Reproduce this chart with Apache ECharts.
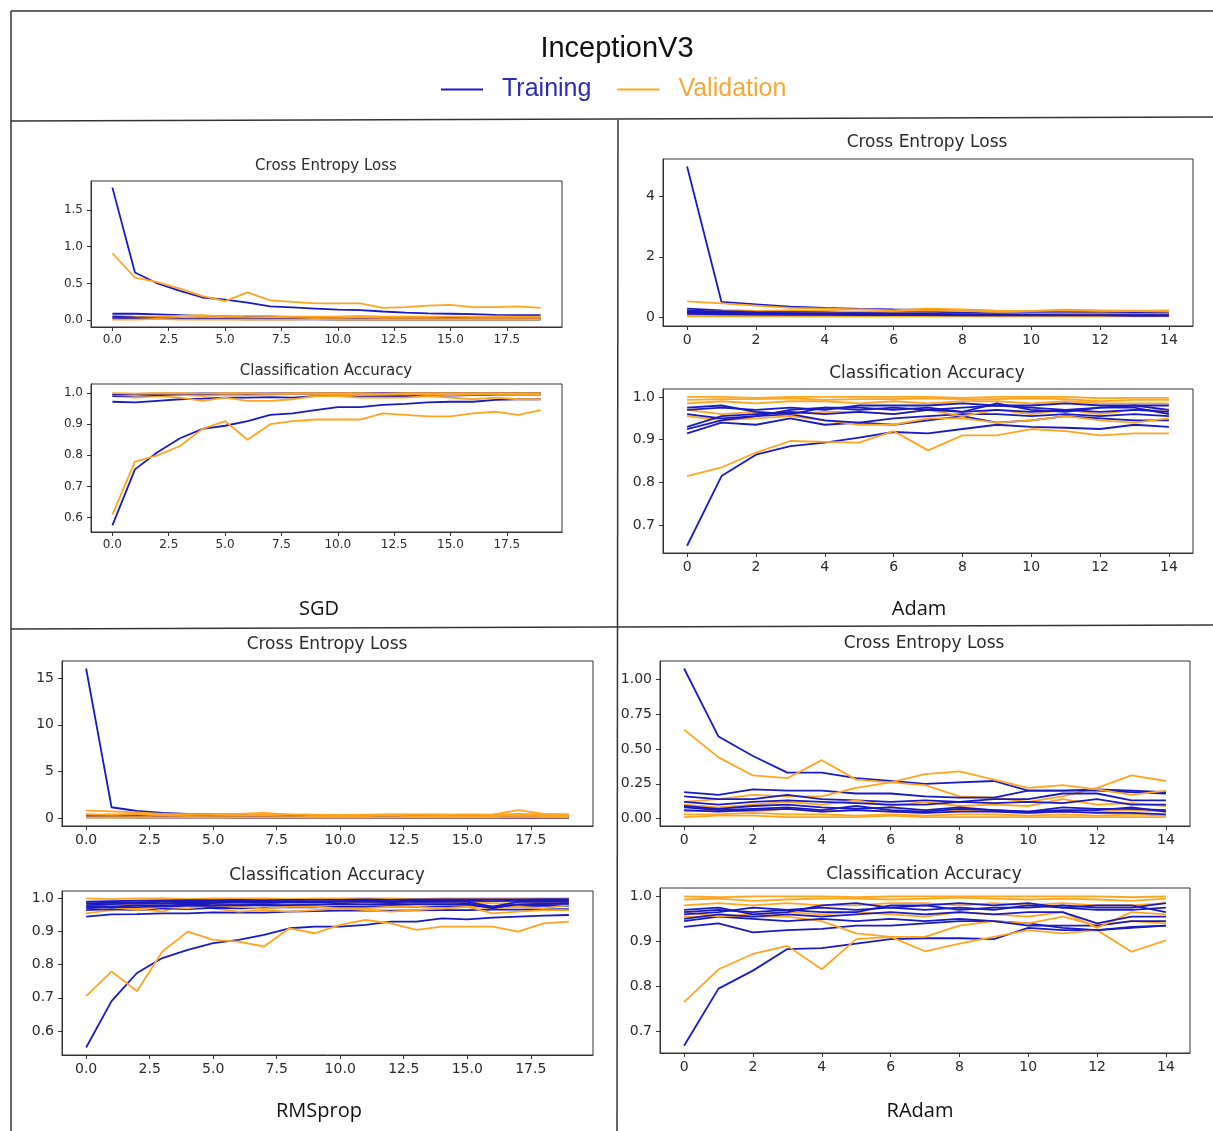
<!DOCTYPE html>
<html>
<head>
<meta charset="utf-8">
<script src="https://cdn.jsdelivr.net/npm/echarts@6/dist/echarts.min.js"></script>
<style>
html, body { margin: 0; padding: 0; background: #fff; }
#main { width: 1213px; height: 1131px; }
</style>
</head>
<body>
<div id="main"></div>
<script>
// tick labels
var ticks20 = [0, 2.5, 5, 7.5, 10, 12.5, 15, 17.5];
var ticks15 = [0, 2, 4, 6, 8, 10, 12, 14];
var sgdLossTicks = [0, 0.5, 1.0, 1.5];
var accTicks6 = [0.6, 0.7, 0.8, 0.9, 1.0];
var accTicks7 = [0.7, 0.8, 0.9, 1.0];
var adamLossTicks = [0, 2, 4];
var rmsLossTicks = [0, 5, 10, 15];
var radamLossTicks = [0, 0.25, 0.5, 0.75, 1.0];

// SGD (20 epochs), one row per fold
var sgdLossTrain = [
    [1.80,0.65,0.50,0.40,0.31,0.28,0.24,0.19,0.175,0.16,0.145,0.14,0.12,0.105,0.095,0.09,0.085,0.075,0.07,0.07],
    [0.09,0.09,0.08,0.07,0.06,0.055,0.05,0.05,0.045,0.045,0.04,0.04,0.04,0.035,0.035,0.035,0.035,0.035,0.035,0.035],
    [0.05,0.04,0.035,0.03,0.03,0.03,0.03,0.025,0.025,0.025,0.02,0.02,0.02,0.02,0.02,0.02,0.02,0.02,0.02,0.02],
    [0.03,0.03,0.025,0.02,0.02,0.02,0.015,0.015,0.015,0.015,0.01,0.01,0.01,0.01,0.01,0.01,0.01,0.01,0.01,0.01]
];
var sgdLossVal = [
    [0.91,0.58,0.52,0.43,0.33,0.26,0.38,0.27,0.25,0.23,0.23,0.23,0.17,0.18,0.20,0.21,0.18,0.18,0.19,0.17],
    [0.06,0.05,0.05,0.06,0.07,0.05,0.06,0.06,0.05,0.05,0.05,0.06,0.05,0.05,0.05,0.05,0.05,0.05,0.05,0.05],
    [0.02,0.03,0.04,0.03,0.05,0.03,0.03,0.04,0.03,0.03,0.03,0.04,0.03,0.03,0.03,0.02,0.03,0.03,0.03,0.03],
    [0.01,0.01,0.02,0.01,0.01,0.01,0.01,0.01,0.01,0.02,0.01,0.01,0.01,0.01,0.01,0.01,0.01,0.01,0.01,0.01]
];
var sgdAccTrain = [
    [0.575,0.755,0.81,0.855,0.885,0.895,0.91,0.93,0.935,0.945,0.955,0.955,0.962,0.965,0.97,0.972,0.972,0.978,0.98,0.98],
    [0.972,0.970,0.975,0.980,0.982,0.985,0.985,0.987,0.985,0.99,0.99,0.99,0.99,0.99,0.992,0.992,0.993,0.995,0.995,0.995],
    [0.99,0.992,0.993,0.995,0.995,0.996,0.996,0.997,0.997,0.997,0.998,0.998,0.998,0.998,0.998,0.999,0.999,0.999,0.999,0.999],
    [0.996,0.997,0.998,0.998,0.999,0.999,0.999,0.999,1.0,1.0,1.0,1.0,1.0,1.0,1.0,1.0,1.0,1.0,1.0,1.0]
];
var sgdAccVal = [
    [0.61,0.78,0.80,0.83,0.885,0.91,0.85,0.90,0.91,0.915,0.915,0.915,0.935,0.93,0.925,0.925,0.935,0.94,0.93,0.945],
    [0.99,0.985,0.99,0.985,0.975,0.985,0.975,0.975,0.98,0.99,0.99,0.985,0.985,0.985,0.99,0.985,0.98,0.985,0.98,0.98],
    [0.995,0.993,0.997,0.995,0.99,0.995,0.993,0.995,0.997,0.997,0.995,0.993,0.995,0.997,0.995,0.993,0.995,0.997,0.995,0.995],
    [1.0,0.998,1.0,1.0,0.998,1.0,1.0,0.998,1.0,1.0,1.0,1.0,0.998,1.0,1.0,1.0,1.0,1.0,1.0,1.0]
];

// Adam (15 epochs)
var adamLossTrain = [
    [5.0,0.5,0.42,0.34,0.3,0.27,0.25,0.24,0.22,0.2,0.18,0.17,0.16,0.15,0.15],
    [0.28,0.22,0.2,0.18,0.17,0.16,0.15,0.18,0.14,0.12,0.12,0.11,0.12,0.11,0.1],
    [0.22,0.18,0.16,0.15,0.14,0.13,0.13,0.12,0.12,0.1,0.1,0.1,0.11,0.09,0.09],
    [0.18,0.14,0.13,0.12,0.12,0.11,0.1,0.1,0.09,0.09,0.08,0.08,0.08,0.08,0.08],
    [0.14,0.12,0.1,0.1,0.09,0.09,0.08,0.08,0.07,0.07,0.07,0.06,0.06,0.06,0.06],
    [0.1,0.09,0.08,0.07,0.07,0.06,0.06,0.06,0.05,0.05,0.05,0.05,0.05,0.04,0.04]
];
var adamLossVal = [
    [0.52,0.45,0.38,0.3,0.28,0.25,0.22,0.28,0.25,0.2,0.2,0.24,0.22,0.2,0.22],
    [0.2,0.18,0.2,0.22,0.2,0.18,0.2,0.22,0.2,0.18,0.2,0.22,0.2,0.21,0.2],
    [0.1,0.12,0.1,0.11,0.12,0.1,0.12,0.11,0.1,0.12,0.1,0.11,0.12,0.1,0.12],
    [0.05,0.06,0.05,0.05,0.06,0.05,0.06,0.05,0.05,0.06,0.05,0.05,0.06,0.05,0.05],
    [0.02,0.02,0.03,0.02,0.02,0.03,0.02,0.02,0.02,0.03,0.02,0.02,0.02,0.02,0.02]
];
var adamAccTrain = [
    [0.652,0.815,0.865,0.885,0.893,0.905,0.918,0.915,0.925,0.935,0.93,0.928,0.925,0.935,0.93],
    [0.915,0.94,0.935,0.95,0.935,0.94,0.935,0.945,0.955,0.94,0.945,0.955,0.95,0.945,0.945],
    [0.925,0.945,0.955,0.96,0.945,0.94,0.95,0.955,0.96,0.96,0.955,0.96,0.955,0.96,0.955],
    [0.93,0.955,0.96,0.965,0.96,0.965,0.96,0.97,0.965,0.97,0.965,0.97,0.965,0.97,0.965],
    [0.96,0.95,0.955,0.97,0.975,0.97,0.975,0.97,0.975,0.98,0.975,0.97,0.975,0.98,0.97],
    [0.97,0.975,0.97,0.975,0.97,0.98,0.98,0.98,0.985,0.98,0.98,0.985,0.98,0.98,0.98],
    [0.975,0.98,0.965,0.96,0.975,0.975,0.97,0.975,0.965,0.985,0.97,0.965,0.975,0.975,0.96]
];
var adamAccVal = [
    [0.815,0.835,0.87,0.897,0.895,0.893,0.92,0.875,0.91,0.91,0.925,0.92,0.91,0.915,0.915],
    [0.955,0.945,0.95,0.955,0.945,0.935,0.935,0.95,0.95,0.94,0.945,0.955,0.945,0.94,0.95],
    [0.97,0.96,0.965,0.96,0.965,0.965,0.96,0.97,0.955,0.97,0.96,0.97,0.96,0.97,0.97],
    [0.985,0.99,0.985,0.99,0.99,0.985,0.99,0.985,0.99,0.99,0.985,0.99,0.985,0.985,0.985],
    [0.993,0.995,0.995,0.997,0.993,0.995,0.995,0.997,0.995,0.995,0.997,0.995,0.99,0.993,0.993],
    [1.0,1.0,0.998,1.0,1.0,1.0,1.0,1.0,0.998,1.0,1.0,1.0,0.997,0.998,0.998]
];

// RMSprop (20 epochs)
var rmsLossTrain = [
    [16.0,1.2,0.8,0.6,0.5,0.45,0.4,0.5,0.35,0.3,0.3,0.28,0.28,0.25,0.25,0.25,0.22,0.22,0.2,0.2],
    [0.4,0.35,0.33,0.3,0.3,0.28,0.27,0.26,0.25,0.24,0.24,0.23,0.22,0.22,0.21,0.2,0.2,0.19,0.19,0.18],
    [0.25,0.22,0.2,0.19,0.18,0.17,0.16,0.16,0.15,0.15,0.14,0.14,0.13,0.13,0.13,0.12,0.12,0.12,0.11,0.11],
    [0.12,0.11,0.1,0.1,0.09,0.09,0.08,0.08,0.08,0.07,0.07,0.07,0.07,0.06,0.06,0.06,0.06,0.06,0.05,0.05]
];
var rmsLossVal = [
    [0.85,0.75,0.65,0.5,0.45,0.45,0.5,0.6,0.4,0.35,0.35,0.35,0.4,0.45,0.4,0.35,0.4,0.9,0.5,0.45],
    [0.4,0.45,0.5,0.4,0.45,0.4,0.35,0.4,0.45,0.4,0.35,0.4,0.45,0.4,0.4,0.45,0.4,0.5,0.45,0.4],
    [0.2,0.25,0.2,0.3,0.25,0.2,0.25,0.3,0.2,0.25,0.2,0.25,0.3,0.2,0.25,0.2,0.25,0.3,0.25,0.2],
    [0.1,0.12,0.1,0.1,0.15,0.1,0.1,0.12,0.1,0.1,0.12,0.1,0.1,0.1,0.12,0.1,0.1,0.15,0.1,0.1]
];
var rmsAccTrain = [
    [0.55,0.69,0.775,0.82,0.845,0.865,0.875,0.89,0.91,0.915,0.915,0.92,0.93,0.93,0.94,0.937,0.942,0.945,0.948,0.95],
    [0.945,0.952,0.953,0.955,0.955,0.958,0.957,0.957,0.96,0.962,0.963,0.963,0.963,0.964,0.965,0.965,0.966,0.966,0.967,0.968],
    [0.965,0.968,0.965,0.97,0.968,0.972,0.97,0.972,0.974,0.973,0.975,0.975,0.976,0.975,0.976,0.977,0.975,0.977,0.978,0.978],
    [0.975,0.978,0.98,0.978,0.982,0.98,0.984,0.982,0.985,0.983,0.985,0.986,0.985,0.987,0.986,0.985,0.97,0.985,0.987,0.985],
    [0.985,0.987,0.988,0.99,0.99,0.99,0.991,0.99,0.992,0.991,0.992,0.993,0.992,0.993,0.993,0.993,0.992,0.993,0.994,0.994],
    [0.99,0.992,0.993,0.994,0.995,0.995,0.996,0.995,0.996,0.996,0.996,0.997,0.996,0.997,0.997,0.997,0.997,0.997,0.998,0.998],
    [0.98,0.983,0.985,0.984,0.987,0.986,0.988,0.987,0.989,0.988,0.99,0.99,0.989,0.99,0.99,0.99,0.975,0.99,0.99,0.99],
    [0.97,0.975,0.974,0.976,0.978,0.978,0.98,0.979,0.98,0.981,0.982,0.982,0.981,0.983,0.983,0.982,0.972,0.982,0.983,0.984]
];
var rmsAccVal = [
    [0.705,0.78,0.72,0.84,0.90,0.875,0.87,0.855,0.91,0.895,0.92,0.935,0.925,0.905,0.915,0.915,0.915,0.90,0.925,0.93],
    [0.955,0.965,0.97,0.96,0.985,0.97,0.96,0.965,0.96,0.965,0.97,0.965,0.96,0.965,0.97,0.975,0.955,0.96,0.965,0.965],
    [0.97,0.975,0.965,0.975,0.97,0.98,0.975,0.97,0.975,0.975,0.97,0.97,0.975,0.975,0.97,0.975,0.97,0.975,0.97,0.98],
    [0.985,0.98,0.985,0.985,0.99,0.985,0.985,0.99,0.985,0.985,0.99,0.985,0.99,0.985,0.985,0.99,0.985,0.985,0.99,0.985],
    [1.0,0.998,1.0,1.0,0.998,1.0,1.0,1.0,0.998,1.0,1.0,1.0,1.0,0.998,1.0,1.0,1.0,1.0,1.0,1.0]
];

// RAdam (15 epochs)
var radamLossTrain = [
    [1.08,0.59,0.45,0.33,0.33,0.29,0.27,0.25,0.26,0.27,0.2,0.2,0.21,0.2,0.19],
    [0.19,0.17,0.21,0.2,0.2,0.18,0.18,0.16,0.15,0.15,0.2,0.2,0.2,0.19,0.18],
    [0.16,0.14,0.14,0.17,0.14,0.13,0.12,0.13,0.12,0.14,0.14,0.18,0.18,0.13,0.13],
    [0.12,0.1,0.12,0.13,0.12,0.11,0.1,0.1,0.12,0.11,0.12,0.11,0.14,0.1,0.1],
    [0.09,0.07,0.09,0.1,0.08,0.07,0.08,0.06,0.08,0.06,0.05,0.08,0.07,0.07,0.06],
    [0.06,0.05,0.06,0.07,0.05,0.06,0.05,0.04,0.05,0.05,0.04,0.05,0.04,0.04,0.03],
    [0.08,0.06,0.07,0.08,0.06,0.09,0.06,0.05,0.07,0.06,0.05,0.06,0.06,0.08,0.05]
];
var radamLossVal = [
    [0.64,0.44,0.31,0.29,0.42,0.28,0.26,0.24,0.16,0.15,0.12,0.16,0.22,0.31,0.27],
    [0.12,0.14,0.17,0.16,0.16,0.22,0.26,0.32,0.34,0.28,0.22,0.24,0.21,0.17,0.2],
    [0.1,0.08,0.1,0.12,0.1,0.13,0.09,0.12,0.09,0.1,0.09,0.14,0.1,0.11,0.09],
    [0.05,0.06,0.05,0.07,0.05,0.06,0.05,0.04,0.06,0.05,0.04,0.05,0.05,0.06,0.05],
    [0.03,0.03,0.04,0.03,0.03,0.02,0.03,0.02,0.03,0.03,0.02,0.03,0.02,0.03,0.02],
    [0.01,0.02,0.02,0.01,0.01,0.01,0.02,0.01,0.01,0.01,0.01,0.01,0.01,0.01,0.01]
];
var radamAccTrain = [
    [0.668,0.795,0.835,0.883,0.885,0.895,0.905,0.907,0.907,0.905,0.93,0.925,0.925,0.932,0.935],
    [0.932,0.94,0.92,0.925,0.928,0.935,0.935,0.94,0.945,0.945,0.94,0.93,0.925,0.93,0.935],
    [0.945,0.955,0.95,0.945,0.95,0.945,0.95,0.945,0.95,0.945,0.935,0.935,0.935,0.945,0.945],
    [0.95,0.96,0.955,0.96,0.955,0.96,0.965,0.96,0.965,0.96,0.965,0.965,0.94,0.955,0.955],
    [0.965,0.97,0.965,0.97,0.975,0.97,0.975,0.97,0.975,0.97,0.98,0.975,0.97,0.97,0.975],
    [0.97,0.975,0.96,0.965,0.98,0.985,0.975,0.98,0.97,0.975,0.975,0.98,0.975,0.975,0.985],
    [0.96,0.965,0.975,0.97,0.965,0.965,0.98,0.98,0.985,0.98,0.985,0.975,0.98,0.98,0.965]
];
var radamAccVal = [
    [0.765,0.838,0.872,0.89,0.838,0.905,0.91,0.878,0.895,0.91,0.925,0.918,0.925,0.877,0.902],
    [0.955,0.955,0.955,0.955,0.945,0.918,0.91,0.91,0.935,0.945,0.94,0.955,0.935,0.945,0.94],
    [0.965,0.955,0.96,0.965,0.96,0.965,0.96,0.955,0.965,0.96,0.955,0.965,0.93,0.965,0.96],
    [0.98,0.985,0.98,0.985,0.98,0.98,0.985,0.985,0.98,0.985,0.98,0.985,0.98,0.98,0.985],
    [0.993,0.995,0.99,0.993,0.995,0.995,0.993,0.995,0.997,0.995,0.993,0.995,0.993,0.99,0.995],
    [1.0,0.998,1.0,1.0,1.0,0.998,1.0,1.0,1.0,1.0,1.0,1.0,1.0,0.998,1.0]
];

var trainColor = '#1a1ac2';
var valColor = '#ffa51f';

var myChart = echarts.init(document.getElementById('main'));

// box: left, top, width, height of each subplot frame
var plots = [
    {box: [91, 181, 471, 146], xr: [-0.95, 19.95], xt: ticks20, xd: 1, yr: [-0.09, 1.89], yt: sgdLossTicks, yd: 1,
     train: sgdLossTrain, val: sgdLossVal, title: 'Cross Entropy Loss', tx: 326, ty: 166, fs: 12, tfs: 15},
    {box: [91, 384, 471, 148], xr: [-0.95, 19.95], xt: ticks20, xd: 1, yr: [0.554, 1.029], yt: accTicks6, yd: 1,
     train: sgdAccTrain, val: sgdAccVal, title: 'Classification Accuracy', tx: 326, ty: 371, fs: 12, tfs: 15},
    {box: [663, 159, 530, 167], xr: [-0.7, 14.7], xt: ticks15, xd: 0, yr: [-0.3, 5.25], yt: adamLossTicks, yd: 0,
     train: adamLossTrain, val: adamLossVal, title: 'Cross Entropy Loss', tx: 927, ty: 143, fs: 14, tfs: 17},
    {box: [663, 389, 530, 164], xr: [-0.7, 14.7], xt: ticks15, xd: 0, yr: [0.635, 1.0186], yt: accTicks7, yd: 1,
     train: adamAccTrain, val: adamAccVal, title: 'Classification Accuracy', tx: 927, ty: 374, fs: 14, tfs: 17},
    {box: [62, 661, 531, 165], xr: [-0.95, 19.95], xt: ticks20, xd: 1, yr: [-0.8, 16.8], yt: rmsLossTicks, yd: 0,
     train: rmsLossTrain, val: rmsLossVal, title: 'Cross Entropy Loss', tx: 327, ty: 645, fs: 14, tfs: 17},
    {box: [62, 891, 531, 164], xr: [-0.95, 19.95], xt: ticks20, xd: 1, yr: [0.5275, 1.0225], yt: accTicks6, yd: 1,
     train: rmsAccTrain, val: rmsAccVal, title: 'Classification Accuracy', tx: 327, ty: 876, fs: 14, tfs: 17},
    {box: [660, 661, 530, 165], xr: [-0.7, 14.7], xt: ticks15, xd: 0, yr: [-0.054, 1.134], yt: radamLossTicks, yd: 2,
     train: radamLossTrain, val: radamLossVal, title: 'Cross Entropy Loss', tx: 924, ty: 644, fs: 14, tfs: 17},
    {box: [660, 888, 530, 165], xr: [-0.7, 14.7], xt: ticks15, xd: 0, yr: [0.652, 1.0186], yt: accTicks7, yd: 1,
     train: radamAccTrain, val: radamAccVal, title: 'Classification Accuracy', tx: 924, ty: 875, fs: 14, tfs: 17}
];

function makeAxis(i, range, ticks, dec, fs, margin) {
    return {
        type: 'value',
        gridIndex: i,
        min: range[0],
        max: range[1],
        axisLine: {show: true, onZero: false, lineStyle: {color: '#333', width: 1}},
        axisTick: {show: true, inside: false, length: 4, customValues: ticks, lineStyle: {color: '#333'}},
        axisLabel: {
            customValues: ticks,
            formatter: function (v) { return Number(v).toFixed(dec); },
            fontSize: fs,
            color: '#2a2a2a',
            fontFamily: 'DejaVu Sans',
            margin: margin
        },
        splitLine: {show: false}
    };
}

function toPairs(arr) {
    return arr.map(function (v, i) { return [i, v]; });
}

function lineSeries(name, color, i, arr) {
    return {
        name: name,
        type: 'line',
        xAxisIndex: i,
        yAxisIndex: i,
        symbol: 'none',
        silent: true,
        lineStyle: {color: color, width: 1.8},
        itemStyle: {color: color},
        data: toPairs(arr)
    };
}

var grids = [], xAxes = [], yAxes = [], series = [], graphics = [];

plots.forEach(function (p, i) {
    grids.push({left: p.box[0], top: p.box[1], width: p.box[2], height: p.box[3],
                show: true, borderColor: '#333', borderWidth: 1});
    xAxes.push(makeAxis(i, p.xr, p.xt, p.xd, p.fs, 7));
    yAxes.push(makeAxis(i, p.yr, p.yt, p.yd, p.fs, 8));
    var n = Math.max(p.train.length, p.val.length);
    for (var k = 0; k < n; k++) {
        if (p.train[k]) series.push(lineSeries('Training', trainColor, i, p.train[k]));
        if (p.val[k]) series.push(lineSeries('Validation', valColor, i, p.val[k]));
    }
    graphics.push({
        type: 'text', x: p.tx, y: p.ty,
        style: {text: p.title, font: p.tfs + 'px "DejaVu Sans"', fill: '#2a2a2a', align: 'center', verticalAlign: 'middle'}
    });
});

// panel labels
var panelNames = ['SGD', 'Adam', 'RMSprop', 'RAdam'];
var panelPos = [[319, 609], [919, 609], [319, 1111], [920, 1111]];
panelNames.forEach(function (nm, i) {
    graphics.push({
        type: 'text', x: panelPos[i][0], y: panelPos[i][1],
        style: {text: nm, font: '20px "Open Sans"', fill: '#111', align: 'center', verticalAlign: 'middle'}
    });
});

// header title
graphics.push({
    type: 'text', x: 617, y: 49,
    style: {text: 'InceptionV3', font: '29px "Liberation Sans"', fill: '#111', align: 'center', verticalAlign: 'middle'}
});

// frame lines of the composite figure
var frameLines = [
    [11, 11, 1213, 11],
    [11, 11, 11, 1131],
    [11, 121, 1213, 117],
    [618, 120, 617, 1131],
    [11, 629, 1213, 625]
];
frameLines.forEach(function (l) {
    graphics.push({
        type: 'line',
        shape: {x1: l[0], y1: l[1], x2: l[2], y2: l[3]},
        style: {stroke: '#333', lineWidth: 1.5}
    });
});

myChart.setOption({
    animation: false,
    legend: {
        left: 441,
        top: 77,
        padding: 0,
        icon: 'rect',
        itemWidth: 42,
        itemHeight: 2,
        itemGap: 26,
        selectedMode: false,
        textStyle: {fontSize: 25, fontFamily: 'Liberation Sans', padding: [0, 0, 0, 14]},
        data: [
            {name: 'Training', textStyle: {color: '#2b2bb5'}},
            {name: 'Validation', textStyle: {color: '#f6a73a'}}
        ]
    },
    grid: grids,
    xAxis: xAxes,
    yAxis: yAxes,
    series: series,
    graphic: graphics
});
</script>
</body>
</html>
